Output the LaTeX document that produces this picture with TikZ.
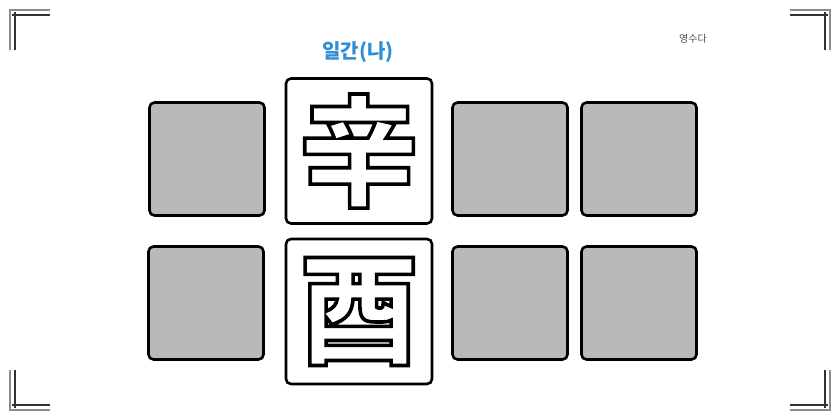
\documentclass[tikz,border=0pt]{standalone}
\usepackage{fontspec}
\newfontfamily\cjk{Noto Sans CJK KR}
\usetikzlibrary{positioning}
\definecolor{labelblue}{HTML}{2E8FD8}
\definecolor{cellgray}{HTML}{B9B9B9}
\def\hollow#1{\special{pdf:literal direct 1 Tr 3.6 w}#1\special{pdf:literal direct 0 Tr 1 w}}
\tikzset{
	cell/.style={draw=black, line width=2.6pt, rounded corners=5pt, minimum width=115pt, minimum height=113pt, inner sep=0pt},
	graycell/.style={cell, fill=cellgray},
	pillar/.style={cell, fill=white, minimum width=146pt, minimum height=145pt, font=\cjk\bfseries\fontsize{120}{120}\selectfont},
	corner/.style={line width=1.2pt}
}
\begin{document}
\begin{tikzpicture}[x=1pt,y=-1pt]
		%%%%% START %%%%%
		\useasboundingbox (0,0) rectangle (840,420);
		
		% corner marks
		\foreach \sx/\sy/\ox/\oy in {0/0/1/1, 840/0/-1/1, 0/420/1/-1, 840/420/-1/-1} {
			\draw[corner, color=black!45] (\sx+10*\ox, \sy+50*\oy) -- (\sx+10*\ox, \sy+10*\oy) -- (\sx+50*\ox, \sy+10*\oy);
			\draw[corner, color=black!80] (\sx+15*\ox, \sy+50*\oy) -- (\sx+15*\ox, \sy+12*\oy);
			\draw[corner, color=black!80] (\sx+12*\ox, \sy+15*\oy) -- (\sx+50*\ox, \sy+15*\oy);
		}
		
		% pillars
		\node[pillar] (stem) at (359, 151) {\hollow{辛}};
		\node[pillar] (branch) at (359, 311.5) {\hollow{酉}};
		
		\node[font=\cjk\bfseries\fontsize{20}{20}\selectfont, text=labelblue] (daymaster) at (358, 52) {일간(나)};
		\node[font=\cjk\fontsize{10}{10}\selectfont, text=black!70] (note) at (693, 39) {영수다};
		
		% empty cells
		\node[graycell] (c1) at (207, 159) {};
		\node[graycell] (c3) at (510, 159) {};
		\node[graycell] (c4) at (639, 159) {};
		\node[graycell] (d1) at (206, 303) {};
		\node[graycell] (d3) at (510, 303) {};
		\node[graycell] (d4) at (639, 303) {};
		
		%%%%% END %%%%%
	\end{tikzpicture}
\end{document}
